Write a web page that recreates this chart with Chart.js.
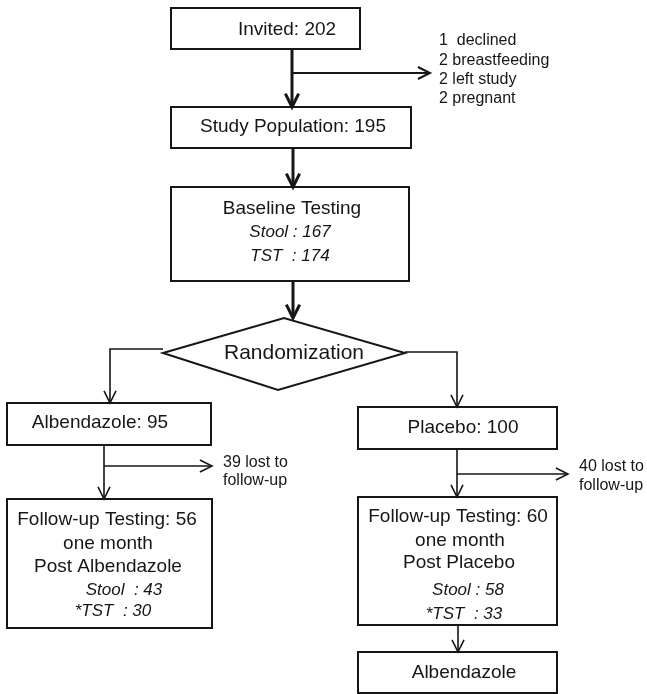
<!DOCTYPE html>
<html>
<head>
<meta charset="utf-8">
<script src="https://cdn.jsdelivr.net/npm/chart.js@4.4.1/dist/chart.umd.min.js"></script>
<style>
  html, body { margin: 0; padding: 0; background: #fff; }
  #flow { display: block; }
</style>
</head>
<body>
<canvas id="flow" width="647" height="694"></canvas>
<script>
// flow counts
const stageNames = ['Invited', 'Study Population', 'Baseline Testing', 'Albendazole', 'Placebo', 'Follow-up Testing', 'Follow-up Testing', 'Albendazole'];
const stageCounts = [202, 195, null, 95, 100, 56, 60, null];
const exclusionCounts = [1, 2, 2, 2];
const exclusionReasons = ['declined', 'breastfeeding', 'left study', 'pregnant'];
const baselineTests = ['Stool', 'TST'];
const baselineCounts = [167, 174];
const followupTests = ['Stool', '*TST'];
const albendazoleCounts = [43, 30];
const placeboCounts = [58, 33];
const lostCounts = [39, 40];

// layout in frame units (x 0..647, y 0..694 top-down)
const boxes = {
  invited:  [171, 8, 360, 49],
  study:    [171, 107, 411, 148],
  baseline: [171, 187, 409, 281],
  alb:      [7, 403, 211, 445],
  plc:      [358, 407, 557, 449],
  fuAlb:    [7, 499, 212, 628],
  fuPlc:    [358, 497, 557, 625],
  final:    [358, 652, 557, 693]
};
const diamond = { l: 163, r: 405, t: 318, b: 390, cy: 353 };

// [points, lineWidth, arrow at end]
const connectors = [
  [[[292, 49], [292, 107]], 3, true],
  [[[292, 73], [430, 73]], 2, true],
  [[[293, 148], [293, 187]], 3, true],
  [[[293, 281], [293, 318]], 3, true],
  [[[163, 349], [110, 349], [110, 403]], 1.6, true],
  [[[405, 352], [457, 352], [457, 407]], 1.6, true],
  [[[104, 445], [104, 499]], 1.6, true],
  [[[104, 466], [212, 466]], 1.6, true],
  [[[457, 449], [457, 497]], 1.6, true],
  [[[457, 474], [568, 474]], 1.6, true],
  [[[458, 625], [458, 652]], 1.6, true]
];

const FONT = '"Liberation Sans", Arial, sans-serif';
const INK = '#161616';

function stageText(i) {
  return stageCounts[i] == null ? stageNames[i] : stageNames[i] + ': ' + stageCounts[i];
}

// [text, x, y, size, italic, align]
const texts = [
  [stageText(0), 287, 30, 19, false, 'center'],
  [stageText(1), 293, 127, 19, false, 'center'],
  [stageNames[2], 292, 209, 19, false, 'center'],
  [baselineTests[0] + ' : ' + baselineCounts[0], 290, 232, 17, true, 'center'],
  [baselineTests[1] + '  : ' + baselineCounts[1], 290, 256, 17, true, 'center'],
  ['Randomization', 294, 353, 21, false, 'center'],
  [stageText(3), 100, 423, 19, false, 'center'],
  [stageText(4), 463, 428, 19, false, 'center'],
  [stageText(5), 107, 520, 19, false, 'center'],
  ['one month', 108, 544, 19, false, 'center'],
  ['Post Albendazole', 108, 567, 19, false, 'center'],
  [followupTests[0] + '  : ' + albendazoleCounts[0], 124, 590, 17, true, 'center'],
  [followupTests[1] + '  : ' + albendazoleCounts[1], 113, 611, 17, true, 'center'],
  [stageText(6), 458, 517, 19, false, 'center'],
  ['one month', 460, 541, 19, false, 'center'],
  ['Post Placebo', 459, 563, 19, false, 'center'],
  [followupTests[0] + ' : ' + placeboCounts[0], 468, 590, 17, true, 'center'],
  [followupTests[1] + '  : ' + placeboCounts[1], 464, 614, 17, true, 'center'],
  [stageText(7), 464, 673, 19, false, 'center'],
  [lostCounts[0] + ' lost to', 223, 463, 16, false, 'left'],
  ['follow-up', 223, 481, 16, false, 'left'],
  [lostCounts[1] + ' lost to', 579, 467, 16, false, 'left'],
  ['follow-up', 579, 486, 16, false, 'left']
];
exclusionCounts.forEach((n, i) => {
  const gap = n === 1 ? '  ' : ' ';
  texts.push([n + gap + exclusionReasons[i], 439, 41 + i * 19.3, 16, false, 'left']);
});

const flowPlugin = {
  id: 'flow',
  afterDraw(chart) {
    const ctx = chart.ctx;
    const sx = chart.scales.x, sy = chart.scales.y;
    const px = v => sx.getPixelForValue(v);
    const py = v => sy.getPixelForValue(v);
    ctx.save();
    ctx.strokeStyle = INK;
    ctx.lineJoin = 'miter';

    // boxes
    ctx.lineWidth = 2;
    Object.values(boxes).forEach(b => {
      ctx.strokeRect(px(b[0]), py(b[1]), px(b[2]) - px(b[0]), py(b[3]) - py(b[1]));
    });

    // diamond
    ctx.beginPath();
    ctx.moveTo(px(diamond.l), py(diamond.cy));
    ctx.lineTo(px((diamond.l + diamond.r) / 2), py(diamond.t));
    ctx.lineTo(px(diamond.r), py(diamond.cy));
    ctx.lineTo(px((diamond.l + diamond.r) / 2 - 6), py(diamond.b));
    ctx.closePath();
    ctx.stroke();

    // connectors with open arrow heads
    connectors.forEach(([pts, lw, arrow]) => {
      ctx.lineWidth = lw;
      ctx.beginPath();
      pts.forEach((p, i) => {
        if (i === 0) ctx.moveTo(px(p[0]), py(p[1]));
        else ctx.lineTo(px(p[0]), py(p[1]));
      });
      ctx.stroke();
      if (arrow) {
        const a = pts[pts.length - 2], b = pts[pts.length - 1];
        const x1 = px(b[0]), y1 = py(b[1]);
        const ang = Math.atan2(y1 - py(a[1]), x1 - px(a[0]));
        const len = lw > 2 ? 15 : 13.5, spread = 0.46;
        ctx.beginPath();
        ctx.moveTo(x1 - len * Math.cos(ang - spread), y1 - len * Math.sin(ang - spread));
        ctx.lineTo(x1, y1);
        ctx.lineTo(x1 - len * Math.cos(ang + spread), y1 - len * Math.sin(ang + spread));
        ctx.stroke();
      }
    });

    // labels
    ctx.fillStyle = INK;
    ctx.textBaseline = 'middle';
    texts.forEach(([t, x, y, size, italic, align]) => {
      ctx.font = (italic ? 'italic ' : '') + size + 'px ' + FONT;
      ctx.textAlign = align;
      ctx.fillText(t, px(x), py(y));
    });
    ctx.restore();
  }
};

new Chart(document.getElementById('flow'), {
  type: 'scatter',
  data: { datasets: [{ data: [], pointRadius: 0 }] },
  options: {
    responsive: false,
    animation: false,
    layout: { padding: 0 },
    plugins: { legend: { display: false }, tooltip: { enabled: false } },
    scales: {
      x: { type: 'linear', min: 0, max: 647, display: false },
      y: { type: 'linear', min: 0, max: 694, reverse: true, display: false }
    }
  },
  plugins: [flowPlugin]
});
</script>
</body>
</html>
